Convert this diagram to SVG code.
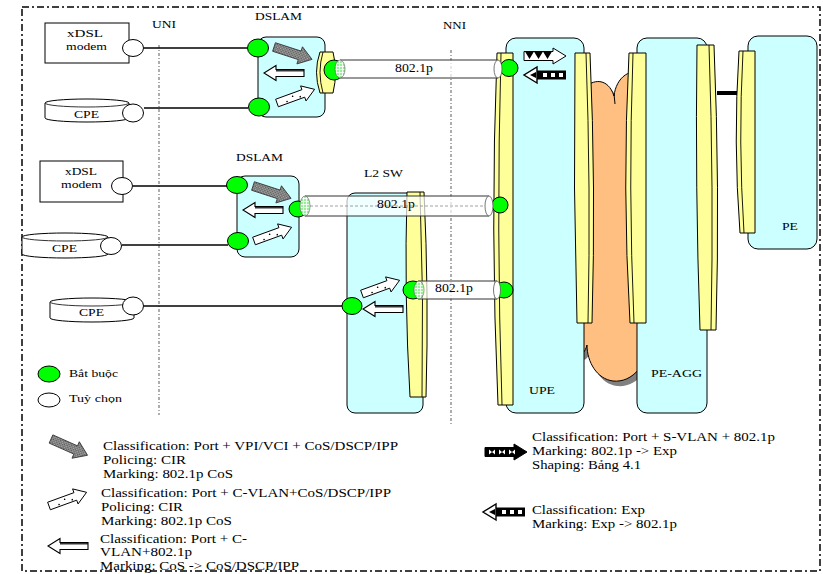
<svg xmlns="http://www.w3.org/2000/svg" xmlns:xlink="http://www.w3.org/1999/xlink" width="823" height="574" viewBox="0 0 823 574">
<style>
.t{font-family:"Liberation Serif","Times New Roman",serif;font-size:11px;fill:#000}
.v{font-size:12px}
.lg{font-size:12px}
.box{fill:#CCFFFF;stroke:#000;stroke-width:1}
.band{fill:#FFFF99;stroke:#000;stroke-width:1}
.bi{fill:none;stroke:#000;stroke-width:0.9}
.g{fill:#00FF00;stroke:#000;stroke-width:1}
.w{fill:#fff;stroke:#000;stroke-width:1}
.ln{stroke:#000;stroke-width:1.3;fill:none}
.tube{fill:#fff;fill-opacity:0.7;stroke:none}
.te{stroke:#333;stroke-width:1;fill:none}
.cap{fill:#fff;stroke:#555;stroke-width:0.8}
.gc{fill:url(#grid);stroke:#555;stroke-width:0.6}
.sep{stroke:#777;stroke-width:1.2;stroke-dasharray:3,2,1,2;fill:none}
</style>
<defs>
<pattern id="hatch" width="3" height="3" patternUnits="userSpaceOnUse"><rect width="3" height="3" fill="#b0b0b0"/><rect width="1.5" height="1.5" fill="#555"/><rect x="1.5" y="1.5" width="1.5" height="1.5" fill="#555"/></pattern>
<pattern id="grid" width="3" height="3" patternUnits="userSpaceOnUse"><rect width="3" height="3" fill="#99EE99"/><path d="M0,0.5H3M0.5,0V3" stroke="#fff" stroke-width="0.8"/></pattern>
<g id="aHatch"><path d="M0,-4.5 H27 V-9 L40,0 L27,9 V4.5 H0 Z" fill="url(#hatch)" stroke="#333" stroke-width="0.8"/></g>
<g id="aDots"><path d="M0,-4 H28 V-8 L40,0 L28,8 V4 H0 Z" fill="#fff" stroke="#000" stroke-width="0.9"/><circle cx="10" cy="2" r="0.8"/><circle cx="17" cy="-1" r="0.8"/><circle cx="24" cy="2" r="0.8"/></g>
<g id="aDouble"><path d="M0,-3.5 H28 V-7.5 L40,0 L28,7.5 V3.5 H0 Z" fill="#fff" stroke="#000" stroke-width="1.1"/><path d="M0,2.2 H28" stroke="#000" stroke-width="1.2"/></g>
<g id="aTri"><path d="M0,-4.5 H29 V-8 L42,0 L29,8 V4.5 H0 Z" fill="#fff" stroke="#000" stroke-width="1"/><path d="M1,-4.5 H10 L5.5,3 Z M10,-4.5 H19 L14.5,3 Z M19,-4.5 H28 L23.5,3 Z"/></g>
<g id="aTri2"><path d="M0,-4.5 H29 V-8 L42,0 L29,8 V4.5 H0 Z" fill="#000" stroke="#000" stroke-width="1"/><path d="M4,-2.5 L10,2.5 V-2.5 L4,2.5 Z M14,-2.5 L20,2.5 V-2.5 L14,2.5 Z M24,-2.5 L30,2.5 V-2.5 L24,2.5 Z" fill="#fff"/></g>
<g id="aSq"><path d="M0,-4.5 H29 V4.5 H0 Z" fill="#000"/><path d="M29,-8 L42,0 L29,8 Z" fill="#fff" stroke="#000" stroke-width="1.4"/><path d="M30,-3 L36,0 L30,3 Z"/><rect x="3" y="-2" width="4" height="4" fill="#fff"/><rect x="11" y="-2" width="4" height="4" fill="#fff"/><rect x="19" y="-2" width="4" height="4" fill="#fff"/></g>
</defs>
<rect x="22" y="7" width="798" height="564" fill="none" stroke="#000" stroke-width="1.5" stroke-dasharray="7,3,2,3"/>
<g id="separators">
<path class="sep" d="M159,45 V415"/>
<path class="sep" d="M451,50 V425"/>
<text class="t" x="152" y="28" textLength="24" lengthAdjust="spacingAndGlyphs">UNI</text>
<text class="t" x="443" y="29" textLength="23" lengthAdjust="spacingAndGlyphs">NNI</text>
</g>
<g id="cloud">
<path transform="translate(4,5)" fill="#808080" d="M575,110 C575,85 605,68 614,96 C616,78 630,65 650,75 L650,330 C650,365 632,383 613,381 C597,379 587,362 587,345 C583,360 572,358 572,340 Z"/>
<path fill="#FFBF80" stroke="#000" stroke-width="1" d="M575,110 C575,85 605,68 614,96 C616,78 630,65 650,75 L650,330 C650,365 632,383 613,381 C597,379 587,362 587,345 C583,360 572,358 572,340 Z"/>
<path d="M614,94 L615,104" stroke="#000" fill="none"/>
</g>
<g id="upe">
<rect class="box" x="506" y="38" width="78" height="375" rx="10"/>
<path class="band" d="M497,53 H513 V405 H498 Q490,229 497,53 Z"/>
<path class="bi" d="M501,53 Q496,229 502,405"/>
<path class="band" d="M575,53 H590 Q596,188 592,323 H577 Q573,188 575,53 Z"/>
<path class="bi" d="M586,53 Q591,188 588,323"/>
<text class="t" x="529" y="394" textLength="26" lengthAdjust="spacingAndGlyphs">UPE</text>
<use xlink:href="#aTri" transform="translate(524,56)"/>
<use xlink:href="#aSq" transform="translate(566,75) rotate(180)"/>
</g>
<g id="pe-agg">
<rect class="box" x="637" y="38" width="70" height="375" rx="10"/>
<path class="band" d="M629,53 H646 V323 H630 Q622,188 629,53 Z"/>
<path class="bi" d="M633,53 Q628,188 634,323"/>
<path class="band" d="M697,45 H714 Q720,188 716,330 H700 Q695,188 697,45 Z"/>
<path class="bi" d="M709,45 Q714,188 711,330"/>
<text class="t" x="651" y="377" textLength="51" lengthAdjust="spacingAndGlyphs">PE-AGG</text>
</g>
<g id="pe">
<rect class="box" x="748" y="36" width="69" height="213" rx="10"/>
<path class="band" d="M739,51 H755 V233 H740 Q733,142 739,51 Z"/>
<path class="bi" d="M743,51 Q738,142 744,233"/>
<text class="t" x="782" y="230" textLength="16" lengthAdjust="spacingAndGlyphs">PE</text>
</g>
<g id="l2sw">
<rect class="box" x="347" y="193" width="76" height="220" rx="8"/>
<path class="band" d="M407,192 H424 Q429,295 426,397 H410 Q404,295 407,192 Z"/>
<path class="bi" d="M420,192 Q424,295 422,397"/>
<text class="t" x="364" y="177" textLength="39" lengthAdjust="spacingAndGlyphs">L2 SW</text>
<use xlink:href="#aDots" transform="translate(362,294) rotate(-20)"/>
<use xlink:href="#aDouble" transform="translate(403,309) rotate(180)"/>
<ellipse class="g" cx="352" cy="306" rx="10" ry="8.5"/>
</g>
<g id="dslam1">
<rect class="box" x="258" y="37" width="67" height="80" rx="8"/>
<text class="t" x="255" y="20" textLength="47" lengthAdjust="spacingAndGlyphs">DSLAM</text>
<path fill="#FFFF99" stroke="#000" stroke-width="1" d="M320,52 H333 Q338,72 333,93 H320 Q313,72 320,52 Z"/>
<path class="bi" d="M323,52 Q317,72 323,93"/>
<use xlink:href="#aHatch" transform="translate(274,47) rotate(18)"/>
<use xlink:href="#aDouble" transform="translate(304,73) rotate(180)"/>
<use xlink:href="#aDots" transform="translate(277,103) rotate(-20)"/>
<ellipse class="g" cx="258" cy="48" rx="10.5" ry="9"/>
<ellipse class="g" cx="259" cy="107" rx="10.5" ry="9"/>
</g>
<g id="dslam2">
<rect class="box" x="237" y="176" width="62" height="81" rx="8"/>
<text class="t" x="236" y="161" textLength="47" lengthAdjust="spacingAndGlyphs">DSLAM</text>
<use xlink:href="#aHatch" transform="translate(253,186) rotate(18)"/>
<use xlink:href="#aDouble" transform="translate(283,210) rotate(180)"/>
<use xlink:href="#aDots" transform="translate(254,241) rotate(-20)"/>
<ellipse class="g" cx="237" cy="185" rx="10.5" ry="8.5"/>
<ellipse class="g" cx="238" cy="241" rx="10.5" ry="8.5"/>
</g>
<g id="modem1">
<rect fill="#fff" stroke="#000" x="45" y="23" width="84" height="40"/>
<text class="t" x="67" y="37" textLength="36" lengthAdjust="spacingAndGlyphs">xDSL</text>
<text class="t" x="66" y="50" textLength="41" lengthAdjust="spacingAndGlyphs">modem</text>
<ellipse class="w" cx="133" cy="48" rx="10.5" ry="8.5"/>
</g>
<g id="cpe1">
<path class="w" d="M45,103 V118 A42,4 0 0 0 129,118 V103 A42,4 0 0 0 45,103 Z"/>
<path class="te" d="M45,103 A42,4 0 0 0 129,103" stroke="#000"/>
<text class="t" x="74" y="118" textLength="25" lengthAdjust="spacingAndGlyphs">CPE</text>
<ellipse class="w" cx="133" cy="113" rx="10.5" ry="9"/>
</g>
<g id="modem2">
<rect fill="#fff" stroke="#000" x="40" y="161" width="83" height="41"/>
<text class="t" x="65" y="175" textLength="32" lengthAdjust="spacingAndGlyphs">xDSL</text>
<text class="t" x="61" y="188" textLength="41" lengthAdjust="spacingAndGlyphs">modem</text>
<ellipse class="w" cx="122" cy="186" rx="10.5" ry="8.5"/>
</g>
<g id="cpe2">
<path class="w" d="M22,237 V254 A43,4 0 0 0 108,254 V237 A43,4 0 0 0 22,237 Z"/>
<path class="te" d="M22,237 A43,4 0 0 0 108,237" stroke="#000"/>
<text class="t" x="52" y="252" textLength="25" lengthAdjust="spacingAndGlyphs">CPE</text>
<ellipse class="w" cx="111" cy="246" rx="10.5" ry="8.5"/>
</g>
<g id="cpe3">
<path class="w" d="M50,302 V318 A42,4 0 0 0 134,318 V302 A42,4 0 0 0 50,302 Z"/>
<path class="te" d="M50,302 A42,4 0 0 0 134,302" stroke="#000"/>
<text class="t" x="79" y="316" textLength="25" lengthAdjust="spacingAndGlyphs">CPE</text>
<ellipse class="w" cx="133" cy="306" rx="10.5" ry="9"/>
</g>
<g id="connectors">
<path class="ln" d="M144,48 H247"/>
<path class="ln" d="M144,108 H248"/>
<path class="ln" d="M133,186 H227"/>
<path class="ln" d="M122,245 H228"/>
<path class="ln" d="M144,306 H342"/>
<path d="M717,93 H737" stroke="#000" stroke-width="4"/>
<g id="tube1">
<ellipse class="g" cx="334" cy="70" rx="10" ry="10"/>
<rect class="tube" x="340" y="60" width="158" height="18"/>
<path class="te" d="M340,60 H498 M340,78 H498"/>
<ellipse class="gc" cx="340" cy="69" rx="5" ry="9"/>
<ellipse class="g" cx="509" cy="68" rx="9" ry="8.5"/>
<ellipse class="cap" cx="498" cy="69" rx="4" ry="9"/>
<text class="t v" x="395" y="72" textLength="38" lengthAdjust="spacingAndGlyphs">802.1p</text>
</g>
<g id="tube2">
<ellipse class="g" cx="298" cy="209" rx="9" ry="8"/>
<rect class="tube" x="305" y="196" width="184" height="20"/>
<path class="te" d="M305,196 H489 M305,216 H489"/>
<path d="M310,206 H486" stroke="#888" stroke-width="0.8" stroke-dasharray="3,2" fill="none"/>
<ellipse class="gc" cx="305" cy="206" rx="5" ry="10"/>
<ellipse class="g" cx="500" cy="205" rx="8" ry="8"/>
<ellipse class="cap" cx="489" cy="206" rx="4" ry="10"/>
<text class="t v" x="377" y="208" textLength="38" lengthAdjust="spacingAndGlyphs">802.1p</text>
</g>
<g id="tube3">
<ellipse class="g" cx="413" cy="290" rx="10" ry="9"/>
<rect class="tube" x="418" y="281" width="79" height="18"/>
<path class="te" d="M418,281 H497 M418,299 H497"/>
<ellipse class="gc" cx="419" cy="290" rx="5" ry="9"/>
<ellipse class="g" cx="504" cy="290" rx="9" ry="8"/>
<ellipse class="cap" cx="497" cy="290" rx="3.5" ry="9"/>
<text class="t v" x="435" y="292" textLength="38" lengthAdjust="spacingAndGlyphs">802.1p</text>
</g>
</g>
<g id="legend">
<ellipse class="g" cx="49" cy="374" rx="11" ry="8"/>
<text class="t" x="69" y="377" textLength="49" lengthAdjust="spacingAndGlyphs">Bắt buộc</text>
<ellipse class="w" cx="49" cy="400" rx="11" ry="7"/>
<text class="t" x="69" y="402" textLength="53" lengthAdjust="spacingAndGlyphs">Tuỳ chọn</text>
<use xlink:href="#aHatch" transform="translate(51,439) rotate(24)"/>
<text class="t lg" x="103" y="450" textLength="295" lengthAdjust="spacingAndGlyphs">Classification: Port + VPI/VCI + CoS/DSCP/IPP</text>
<text class="t lg" x="103" y="464" textLength="83" lengthAdjust="spacingAndGlyphs">Policing: CIR</text>
<text class="t lg" x="103" y="478" textLength="130" lengthAdjust="spacingAndGlyphs">Marking: 802.1p CoS</text>
<use xlink:href="#aDots" transform="translate(49,506) rotate(-20)"/>
<text class="t lg" x="101" y="497" textLength="290" lengthAdjust="spacingAndGlyphs">Classification: Port + C-VLAN+CoS/DSCP/IPP</text>
<text class="t lg" x="101" y="511" textLength="82" lengthAdjust="spacingAndGlyphs">Policing: CIR</text>
<text class="t lg" x="101" y="525" textLength="131" lengthAdjust="spacingAndGlyphs">Marking: 802.1p CoS</text>
<use xlink:href="#aDouble" transform="translate(88,546) rotate(180)"/>
<text class="t lg" x="100" y="542.5" textLength="147" lengthAdjust="spacingAndGlyphs">Classification: Port + C-</text>
<text class="t lg" x="100" y="556" textLength="92" lengthAdjust="spacingAndGlyphs">VLAN+802.1p</text>
<text class="t lg" x="100" y="569.5" textLength="199" lengthAdjust="spacingAndGlyphs">Marking: CoS -&gt; CoS/DSCP/IPP</text>
<use xlink:href="#aTri2" transform="translate(485,452)"/>
<text class="t lg" x="532" y="441" textLength="243" lengthAdjust="spacingAndGlyphs">Classification: Port + S-VLAN + 802.1p</text>
<text class="t lg" x="532" y="455" textLength="145" lengthAdjust="spacingAndGlyphs">Marking: 802.1p -&gt; Exp</text>
<text class="t lg" x="532" y="469" textLength="109" lengthAdjust="spacingAndGlyphs">Shaping: Bảng 4.1</text>
<use xlink:href="#aSq" transform="translate(525,512) rotate(180)"/>
<text class="t lg" x="532" y="514" textLength="113" lengthAdjust="spacingAndGlyphs">Classification: Exp</text>
<text class="t lg" x="532" y="528" textLength="145" lengthAdjust="spacingAndGlyphs">Marking: Exp -&gt; 802.1p</text>
</g>
</svg>
